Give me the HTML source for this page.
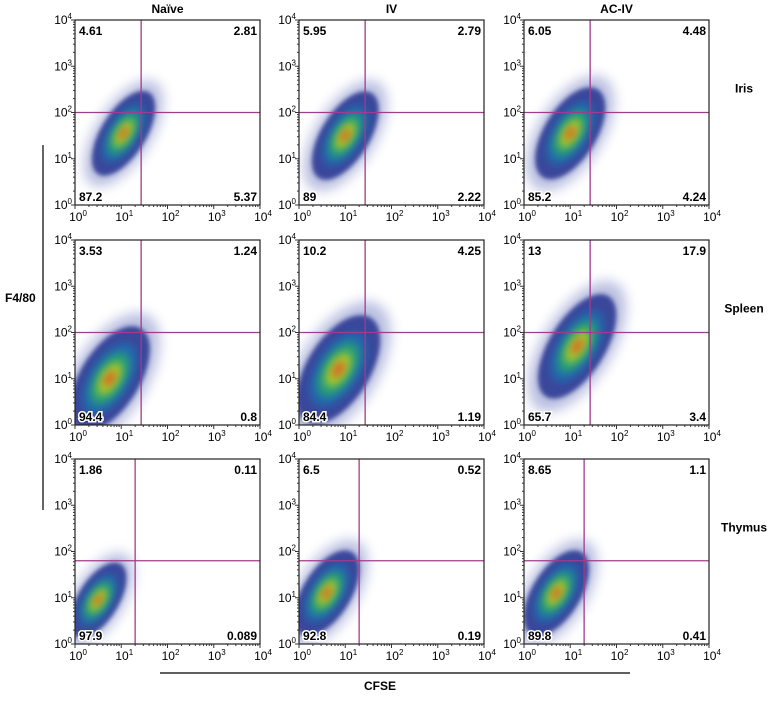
<!DOCTYPE html>
<html><head><meta charset="utf-8"><style>
body{margin:0;background:#fff;}
svg{display:block;font-family:"Liberation Sans",Arial,sans-serif;}
</style></head><body>
<svg id="fig" width="774" height="704" viewBox="0 0 774 704">
<defs>
<filter id="blur" x="-50%" y="-50%" width="200%" height="200%"><feGaussianBlur stdDeviation="4"/></filter>
<filter id="blur2" x="-50%" y="-50%" width="200%" height="200%"><feGaussianBlur stdDeviation="2"/></filter>
<filter id="blur3" x="-50%" y="-50%" width="200%" height="200%"><feGaussianBlur stdDeviation="6"/></filter>
</defs>
<text x="380" y="690" font-size="12" font-weight="bold" text-anchor="middle">CFSE</text>
<line x1="160" y1="673" x2="630" y2="673" stroke="#000" stroke-width="1.2"/>
<text x="5" y="302" font-size="12" font-weight="bold">F4/80</text>
<line x1="43" y1="145" x2="43" y2="510" stroke="#000" stroke-width="1.2"/>
</svg>
<script>
const columns=["Naïve","IV","AC-IV"];
const rows=["Iris","Spleen","Thymus"];
const quadUL=[[4.61,5.95,6.05],[3.53,10.2,13],[1.86,6.5,8.65]];
const quadUR=[[2.81,2.79,4.48],[1.24,4.25,17.9],[0.11,0.52,1.1]];
const quadLL=[[87.2,89,85.2],[94.4,84.4,65.7],[97.9,92.8,89.8]];
const quadLR=[[5.37,2.22,4.24],[0.8,1.19,3.4],[0.089,0.19,0.41]];
const gateX=[[1.43,1.43,1.43],[1.43,1.43,1.43],[1.3,1.3,1.3]];
const gateY=[[2,2,2],[2,2,2],[1.8,1.8,1.8]];
const clusterX=[[1.05,1.0,1.0],[0.75,0.85,1.15],[0.5,0.6,0.7]];
const clusterY=[[1.55,1.5,1.55],[1.0,1.2,1.7],[0.95,1.1,1.1]];
const spreadMajor=[[1.3,1.35,1.4],[1.6,1.65,1.6],[1.15,1.3,1.3]];
const spreadMinor=[[0.6,0.65,0.7],[0.8,0.85,0.75],[0.55,0.65,0.65]];
const tickExp=[0,1,2,3,4];

const NS="http://www.w3.org/2000/svg";
const svg=document.getElementById('fig');
function mk(tag,attrs,parent){const e=document.createElementNS(NS,tag);for(const k in attrs)e.setAttribute(k,attrs[k]);(parent||svg).appendChild(e);return e;}
const colLeft=[75,299,524], rowTop=[20,240,459], W=185, H=185;
const layers=[["#3a4aa8",1.0,0.35,'url(#blur3)'],["#1a2a8a",0.8,0.8,'url(#blur2)'],["#1f6fb0",0.55,0.85,'url(#blur)'],["#2aa870",0.4,0.85,'url(#blur)'],["#b8d020",0.25,0.85,'url(#blur)'],["#e85020",0.12,0.85,'url(#blur)']];
columns.forEach((c,ci)=>{
  const t=mk('text',{x:colLeft[ci]+W/2,y:13,'font-size':12,'font-weight':'bold','text-anchor':'middle'});
  
  
  t.textContent=c;
});
rows.forEach((r,ri)=>{
  const t=mk('text',{x:744,y:rowTop[ri]+H/2-20,'font-size':12,'font-weight':'bold','text-anchor':'middle'});
  
  
  t.textContent=r;
  columns.forEach((c,ci)=>{
    const x0=colLeft[ci], y0=rowTop[ri];
    const sx=v=>x0+v/4*W, sy=v=>y0+H-v/4*H;
    const g=mk('g',{});
    
    
    const cid='clip'+ri+ci;
    const cp=mk('clipPath',{id:cid},g); mk('rect',{x:x0,y:y0,width:W,height:H},cp);
    const dens=mk('g',{'clip-path':'url(#'+cid+')'},g);
    
    
    const cx=sx(clusterX[ri][ci]), cy=sy(clusterY[ri][ci]);
    layers.forEach(([col,f,op,flt])=>{
      mk('ellipse',{cx:cx,cy:cy,rx:spreadMajor[ri][ci]*f*W/4,ry:spreadMinor[ri][ci]*f*W/4,fill:col,opacity:op,filter:flt,transform:`rotate(-58 ${cx} ${cy})`},dens);
    });
    const gx=sx(gateX[ri][ci]), gy=sy(gateY[ri][ci]);
    const gl1=mk('line',{x1:gx,y1:y0,x2:gx,y2:y0+H,stroke:'#a03c8c','stroke-width':1.3},g);
    
    
    const gl2=mk('line',{x1:x0,y1:gy,x2:x0+W,y2:gy,stroke:'#a03c8c','stroke-width':1.3},g);
    
    
    const fr=mk('rect',{x:x0,y:y0,width:W,height:H,fill:'none',stroke:'#222','stroke-width':1.2},g);
    
    
    tickExp.forEach(k=>{
      const ty=mk('text',{x:x0-3,y:sy(k)+4,'font-size':12,'text-anchor':'end'},g);
      
      
      ty.innerHTML='10<tspan dy="-5" font-size="8">'+k+'</tspan>';
      const tx=mk('text',{x:sx(k)+3,y:y0+H+16,'font-size':12,'text-anchor':'middle'},g);
      
      
      tx.innerHTML='10<tspan dy="-5" font-size="8">'+k+'</tspan>';
      if(k<4){for(let m=2;m<10;m++){const lv=k+Math.log10(m);
        mk('line',{x1:sx(lv),y1:y0+H,x2:sx(lv),y2:y0+H+2,stroke:'#333','stroke-width':1},g);
        mk('line',{x1:x0,y1:sy(lv),x2:x0-2,y2:sy(lv),stroke:'#333','stroke-width':1},g);}}
      mk('line',{x1:sx(k),y1:y0+H,x2:sx(k),y2:y0+H+4,stroke:'#333'},g);
      mk('line',{x1:x0,y1:sy(k),x2:x0-4,y2:sy(k),stroke:'#333'},g);
    });
    const q=[[quadUL,x0+4,y0+15,'start','quadrant-ul'],[quadUR,x0+W-3,y0+15,'end','quadrant-ur'],[quadLL,x0+4,y0+H-4,'start','quadrant-ll'],[quadLR,x0+W-3,y0+H-4,'end','quadrant-lr']];
    q.forEach(([arr,qx,qy,anc,nm])=>{
      const bg=mk('text',{x:qx,y:qy,'font-size':12,'font-weight':'bold','text-anchor':anc,stroke:'#fff','stroke-width':3,'paint-order':'stroke'},g);
      
      
      bg.textContent=arr[ri][ci];
    });
  });
});
</script>
</body></html>
